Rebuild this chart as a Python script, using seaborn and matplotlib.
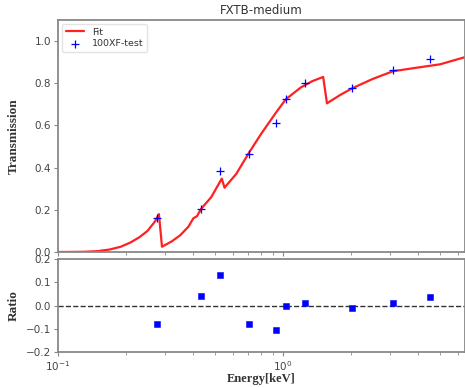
import matplotlib
matplotlib.use("Agg")
import matplotlib.pyplot as plt
import seaborn as sns
import numpy as np
import pandas as pd

# Fit curve
fit_energy = [0.10, 0.13, 0.15, 0.17, 0.19, 0.21, 0.23, 0.25, 0.27, 0.281,
              0.29, 0.32, 0.35, 0.38, 0.40, 0.415, 0.433, 0.48, 0.535,
              0.55, 0.62, 0.706, 0.80, 0.93, 1.03, 1.20, 1.35, 1.51,
              1.57, 1.80, 2.03, 2.50, 3.08, 4.00, 5.00, 6.50]
fit_trans = [0.000, 0.001, 0.004, 0.012, 0.025, 0.045, 0.07, 0.10, 0.145, 0.18,
             0.025, 0.05, 0.08, 0.12, 0.16, 0.17, 0.205, 0.26, 0.348,
             0.305, 0.37, 0.47, 0.56, 0.66, 0.724, 0.78, 0.81, 0.83,
             0.705, 0.745, 0.776, 0.82, 0.857, 0.875, 0.89, 0.925]

# Measured points
data_energy = [0.275, 0.433, 0.525, 0.706, 0.93, 1.03, 1.25, 2.03, 3.08, 4.5]
data_trans = [0.160, 0.205, 0.386, 0.467, 0.614, 0.724, 0.800, 0.780, 0.862, 0.914]
ratio = [-0.08, 0.04, 0.13, -0.08, -0.105, 0.0, 0.01, -0.01, 0.01, 0.035]

title = "FXTB-medium"
xlabel = "Energy[keV]"
ylabel_top = "Transmission"
ylabel_bottom = "Ratio"

sns.set_style("ticks")

fig = plt.figure(figsize=(4.65, 3.87), dpi=100)
ax1 = fig.add_axes([0.1247, 0.3488, 0.8753, 0.5995])
ax2 = fig.add_axes([0.1247, 0.0904, 0.8753, 0.2403], sharex=ax1)

fit_df = pd.DataFrame({"E": fit_energy, "T": fit_trans})
pts_df = pd.DataFrame({"E": data_energy, "T": data_trans, "R": ratio})

sns.lineplot(data=fit_df, x="E", y="T", ax=ax1, color="#ff2020", lw=1.6,
             sort=False, estimator=None, label="Fit")
sns.scatterplot(data=pts_df, x="E", y="T", ax=ax1, marker="+", color="blue",
                s=28, linewidth=0.9, label="100XF-test", zorder=3)
ax1.set_xscale("log")
ax1.set_xlim(0.1, 6.45)
ax1.set_ylim(0, 1.1)
ax1.set_yticks([0, 0.2, 0.4, 0.6, 0.8, 1.0])
ax1.set_title(title, fontsize=8.5, color="#333333", pad=4)
ax1.set_xlabel("")
ax1.set_ylabel(ylabel_top, family="Liberation Serif", fontweight="bold",
               fontsize=9.5, color="#333333")
ax1.tick_params(labelbottom=False)
leg = ax1.legend(loc="upper left", fontsize=6.8, frameon=True,
                 handlelength=2.0, borderpad=0.4, labelspacing=0.3,
                 borderaxespad=0.4)
leg.get_frame().set_edgecolor("#dddddd")
for t in leg.get_texts():
    t.set_color("#333333")

sns.scatterplot(data=pts_df, x="E", y="R", ax=ax2, marker="s", color="blue",
                s=22, edgecolor="blue", zorder=3)
ax2.axhline(0, color="#333333", ls="--", lw=1.0)
ax2.set_ylim(-0.2, 0.2)
ax2.set_yticks([-0.2, -0.1, 0.0, 0.1, 0.2])
ax2.set_xlabel(xlabel, family="Liberation Serif", fontweight="bold",
               fontsize=9, color="#333333", labelpad=0)
ax2.set_ylabel(ylabel_bottom, family="Liberation Serif", fontweight="bold",
               fontsize=9.5, color="#333333")

for ax in (ax1, ax2):
    for s in ax.spines.values():
        s.set_color("#888888")
        s.set_linewidth(1.3)
    ax.tick_params(axis="both", which="both", colors="#888888",
                   labelcolor="#444444", labelsize=7.5, length=3, pad=2)
    ax.tick_params(which="minor", length=2)
    ax.yaxis.set_label_coords(-0.095, 0.5)

fig.savefig("out.png", dpi=100)
